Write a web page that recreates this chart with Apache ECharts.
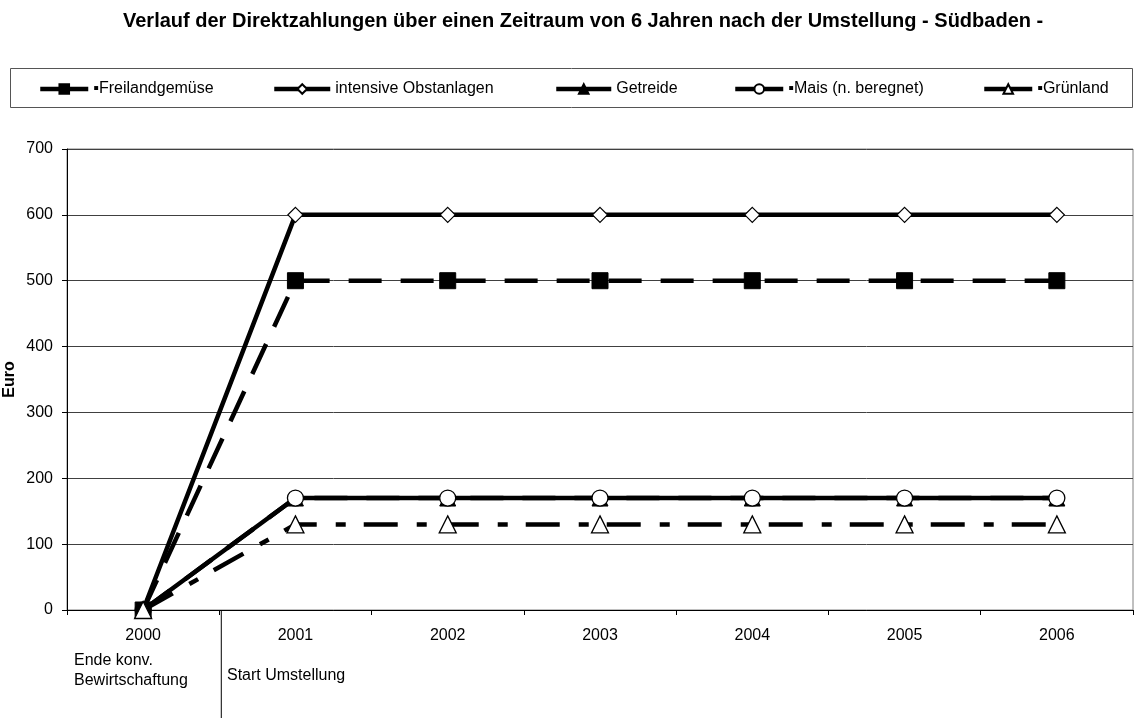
<!DOCTYPE html>
<html>
<head>
<meta charset="utf-8">
<script src="https://cdn.jsdelivr.net/npm/echarts@6/dist/echarts.min.js"></script>
<style>
html,body{margin:0;padding:0;background:#fff;}
#c{width:1135px;height:722px;}
</style>
</head>
<body>
<div id="c"></div>
<script>
const years = ['2000','2001','2002','2003','2004','2005','2006'];
const freiland = [0,500,500,500,500,500,500];
const obst = [0,600,600,600,600,600,600];
const getreide = [0,170,170,170,170,170,170];
const mais = [0,170,170,170,170,170,170];
const gruenland = [0,130,130,130,130,130,130];
const yTicks = [0,100,200,300,400,500,600,700];

const FONT = '"Liberation Sans", Arial, sans-serif';
const chart = echarts.init(document.getElementById('c'));

function legendAt(name, left, w, label){
  return {
    data:[name], left:left, top:81, itemWidth:w, itemHeight:12, itemGap:0,
    padding:0, formatter: () => label,
    lineStyle:{type:'solid',width:4.5,color:'#000'},
    textStyle:{fontFamily:FONT,fontSize:16,color:'#000'},
    selectedMode:false
  };
}

const option = {
  backgroundColor:'#fff',
  animation:false,
  title:{
    text:'Verlauf der Direktzahlungen über einen Zeitraum von 6 Jahren nach der Umstellung - Südbaden -',
    left:118, top:6,
    textStyle:{fontFamily:FONT,fontSize:20,fontWeight:'bold',color:'#000'}
  },
  legend:[
    legendAt('Freilandgemüse',38,48,'\u25AAFreilandgemüse'),
    legendAt('intensive Obstanlagen',272,56,'intensive Obstanlagen'),
    legendAt('Getreide',554,55,'Getreide'),
    legendAt('Mais (n. beregnet)',733,48,'\u25AAMais (n. beregnet)'),
    legendAt('Grünland',982,48,'\u25AAGrünland')
  ],
  grid:{left:67,right:2,top:149,bottom:112,containLabel:false,outerBoundsMode:'none',
    show:true,borderColor:'#808080',borderWidth:1},
  xAxis:{
    type:'category', data:years, boundaryGap:true,
    axisLine:{lineStyle:{color:'#000',width:1}},
    axisTick:{show:true,interval:0,length:5,lineStyle:{color:'#000'}},
    axisLabel:{fontFamily:FONT,fontSize:16,color:'#000',margin:18,interval:0},
    splitLine:{show:false}
  },
  yAxis:{
    type:'value', min:0, max:700, interval:100,
    axisLine:{show:true,lineStyle:{color:'#000',width:1}},
    axisTick:{show:true,length:5,lineStyle:{color:'#000'}},
    axisLabel:{fontFamily:FONT,fontSize:16,color:'#000',margin:14,
      formatter:v=> yTicks.indexOf(v)>=0 ? String(v) : ''},
    splitLine:{show:true,lineStyle:{color:'#404040',width:1}}
  },
  series:[
    {name:'Freilandgemüse',type:'line',data:freiland,z:3,
      symbol:'rect',symbolSize:16,
      lineStyle:{color:'#000',width:4.5,type:[33,19]},
      itemStyle:{color:'#000',borderColor:'#000',borderWidth:1}},
    {name:'intensive Obstanlagen',type:'line',data:obst,z:2,
      symbol:'diamond',symbolSize:15,
      lineStyle:{color:'#000',width:4.5,type:'solid'},
      itemStyle:{color:'#fff',borderColor:'#000',borderWidth:1.2}},
    {name:'Getreide',type:'line',data:getreide,z:2,
      symbol:'triangle',symbolSize:16,
      lineStyle:{color:'#000',width:4.5,type:'solid'},
      itemStyle:{color:'#000',borderColor:'#000',borderWidth:1}},
    {name:'Mais (n. beregnet)',type:'line',data:mais,z:2,
      symbol:'circle',symbolSize:16,
      lineStyle:{color:'#000',width:4.5,type:[33,19]},
      itemStyle:{color:'#fff',borderColor:'#000',borderWidth:1.3}},
    {name:'Grünland',type:'line',data:gruenland,z:4,
      symbol:'triangle',symbolSize:17,
      lineStyle:{color:'#000',width:4.5,type:[34,19,10,18]},
      itemStyle:{color:'#fff',borderColor:'#000',borderWidth:1.3}}
  ]
};
chart.setOption(option);

// annotations below the axis, y-axis title and legend frame
const x0 = chart.convertToPixel({xAxisIndex:0}, years[0]);
const x1 = chart.convertToPixel({xAxisIndex:0}, years[1]);
const sep = (x0 + x1) / 2 + 2;
const yBase = chart.convertToPixel({yAxisIndex:0}, 0);
const yTop = chart.convertToPixel({yAxisIndex:0}, 700);
chart.setOption({
  graphic:[
    {type:'rect',shape:{x:10.5,y:68.5,width:1122,height:39},silent:true,
      style:{fill:'none',stroke:'#555',lineWidth:1},z:-1},
    {type:'line',shape:{x1:sep,y1:yBase,x2:sep,y2:718},silent:true,
      style:{stroke:'#000',lineWidth:1}},
    {type:'text',x:10,y:(yBase+yTop)/2,rotation:Math.PI/2,silent:true,
      style:{text:'Euro',fill:'#000',font:'bold 16px '+FONT,align:'center',verticalAlign:'middle'}},
    {type:'text',x:74,y:651,silent:true,
      style:{text:'Ende konv.\nBewirtschaftung',fill:'#000',font:'16px '+FONT,lineHeight:19.5}},
    {type:'text',x:227,y:668,silent:true,
      style:{text:'Start Umstellung',fill:'#000',font:'16px '+FONT}}
  ]
});
</script>
</body>
</html>
